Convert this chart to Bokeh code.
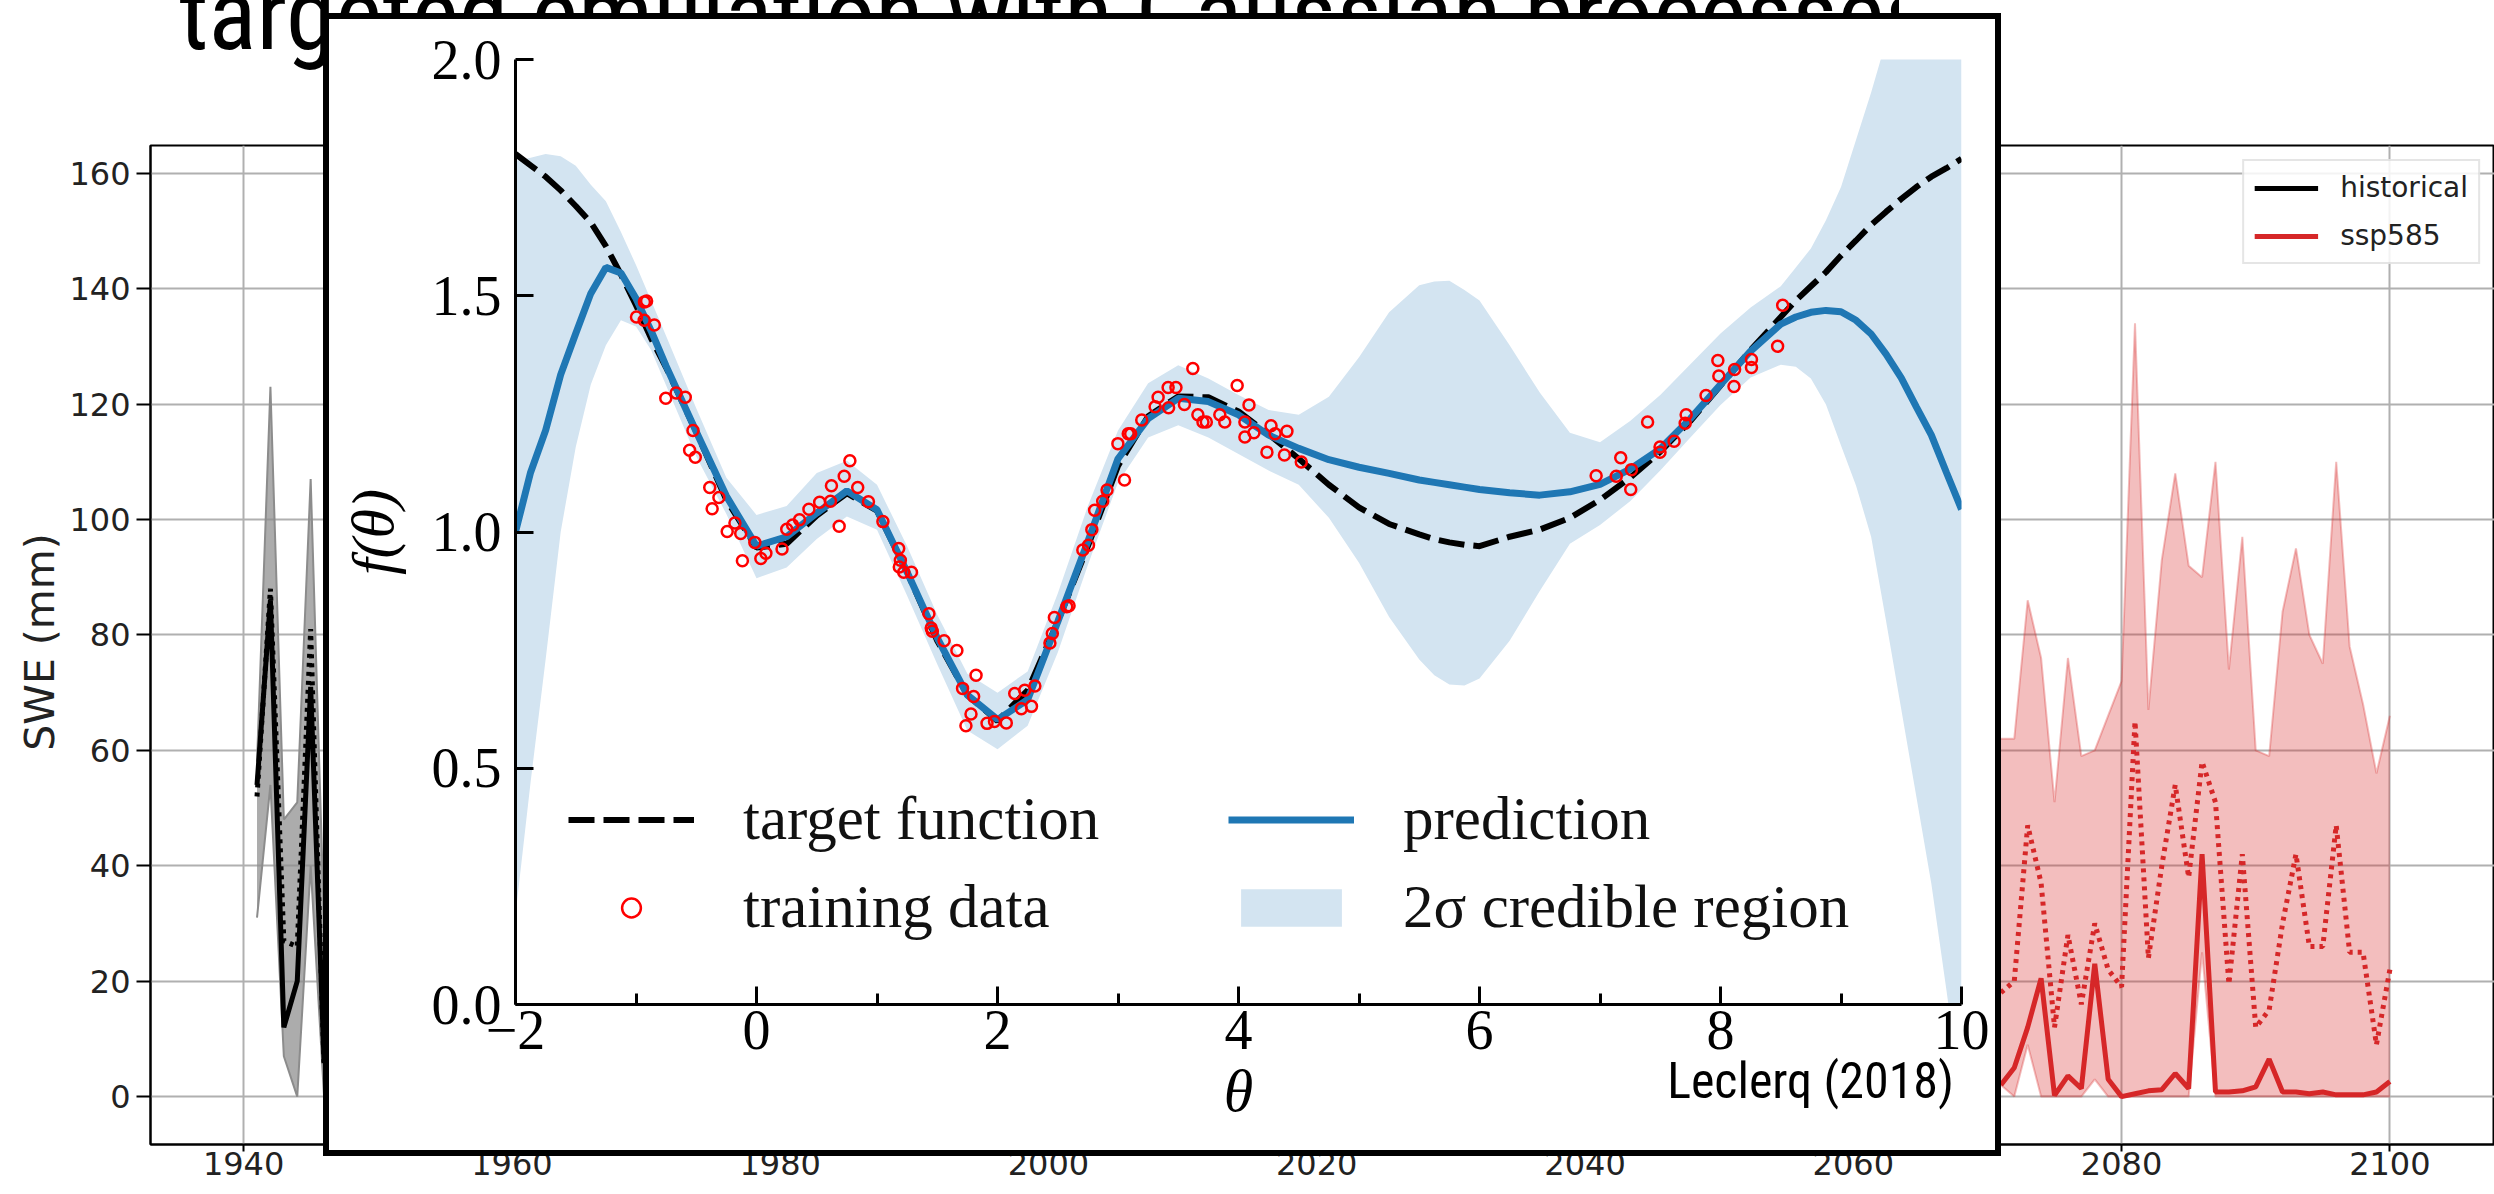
from bokeh.plotting import figure
from bokeh.models import Range1d, FixedTicker, Legend, LegendItem, Div
from bokeh.embed import file_html
from bokeh.resources import INLINE

# ---------------- background: snow water equivalent ensemble ----------------
hist_years = [1941, 1942, 1943, 1944, 1945, 1946]
hist_median = [54, 86, 12, 20, 71, 6]
hist_mean = [52, 88, 27, 26, 81, 5]
hist_low = [31, 54, 7, 0, 40, 0]
hist_high = [58, 123, 48, 51, 107, 30]

ssp_years = [2071, 2072, 2073, 2074, 2075, 2076, 2077, 2078, 2079, 2080,
             2081, 2082, 2083, 2084, 2085, 2086, 2087, 2088, 2089, 2090,
             2091, 2092, 2093, 2094, 2095, 2096, 2097, 2098, 2099, 2100]
ssp_median = [2, 5, 12, 20.5, 0.2, 3.6, 1.4, 23, 3, 0,
              0.5, 1, 1.2, 4, 1.4, 42, 0.8, 0.8, 1, 1.7,
              6.5, 0.8, 0.8, 0.5, 0.8, 0.3, 0.3, 0.3, 0.8, 2.6]
ssp_mean = [18, 20, 47, 37, 12, 28, 16, 30, 22, 19,
            65, 24, 40, 54, 38, 58, 51, 19.5, 42, 12,
            15, 30, 42, 26, 26, 47, 25, 25, 9, 22]
ssp_low = [2, 0, 9, 0, 0, 0, 0, 3, 0, 0,
           0, 0, 0, 0, 0, 25, 0, 0, 0, 0,
           0, 0, 0, 0, 0, 0, 0, 0, 0, 0]
ssp_high = [62, 62, 86, 76, 51, 76, 59, 60, 66, 72,
            134, 67, 93, 108, 92, 90, 110, 74, 97, 60,
            59, 84, 95, 80, 75, 110, 78, 68, 56, 66]

year_ticks = [1940, 1960, 1980, 2000, 2020, 2040, 2060, 2080, 2100]
swe_ticks = [0, 20, 40, 60, 80, 100, 120, 140, 160]

TITLE = "targeted emulation with Gaussian processes"

# ---------------- inset: Gaussian-process regression ----------------
theta = [-2.0, -1.875, -1.75, -1.625, -1.5, -1.375, -1.25, -1.125, -1.0, -0.875, -0.75,
         -0.5, -0.25, 0.0, 0.25, 0.5, 0.75, 1.0, 1.25, 1.5, 1.75, 2.0, 2.25, 2.5,
         2.75, 3.0, 3.25, 3.5, 3.75, 4.0, 4.25, 4.5, 4.75, 5.0, 5.25, 5.5,
         5.625, 5.75, 5.875, 6.0, 6.25, 6.5, 6.75, 7.0, 7.25, 7.5, 7.75, 8.0, 8.25, 8.5,
         8.625, 8.75, 8.875, 9.0, 9.125, 9.25, 9.375, 9.5, 9.625, 9.75, 9.875, 10.0]
target_f = [1.80, 1.776, 1.752, 1.723, 1.69, 1.655, 1.605, 1.545, 1.48, 1.41, 1.348,
            1.212, 1.068, 0.967, 0.975, 1.035, 1.082, 1.045, 0.915, 0.77, 0.655, 0.60, 0.665, 0.81,
            0.97, 1.14, 1.245, 1.287, 1.285, 1.255, 1.207, 1.155, 1.10, 1.052, 1.017, 0.995,
            0.985, 0.978, 0.973, 0.97, 0.99, 1.005, 1.03, 1.068, 1.115, 1.17, 1.235, 1.31, 1.385, 1.455,
            1.49, 1.52, 1.55, 1.585, 1.617, 1.65, 1.678, 1.705, 1.73, 1.752, 1.77, 1.79]
pred_f = [1.0, 1.126, 1.215, 1.333, 1.42, 1.505, 1.56, 1.548, 1.494, 1.426, 1.351,
          1.212, 1.076, 0.97, 0.99, 1.04, 1.087, 1.047, 0.915, 0.776, 0.655, 0.603, 0.645, 0.81,
          0.98, 1.155, 1.24, 1.283, 1.276, 1.248, 1.205, 1.177, 1.153, 1.137, 1.124, 1.11,
          1.105, 1.10, 1.095, 1.09, 1.083, 1.078, 1.085, 1.101, 1.133, 1.176, 1.24, 1.312, 1.383, 1.44,
          1.455, 1.465, 1.469, 1.466, 1.448, 1.419, 1.376, 1.326, 1.265, 1.205, 1.126, 1.048]
band_high = [1.785, 1.792, 1.80, 1.795, 1.775, 1.735, 1.70, 1.635, 1.565, 1.49, 1.415,
             1.262, 1.115, 1.036, 1.055, 1.125, 1.151, 1.10, 0.97, 0.825, 0.70, 0.66, 0.705, 0.87,
             1.055, 1.215, 1.315, 1.353, 1.325, 1.29, 1.258, 1.248, 1.286, 1.37, 1.465, 1.522,
             1.53, 1.532, 1.512, 1.49, 1.395, 1.295, 1.21, 1.19, 1.235, 1.29, 1.355, 1.42, 1.475, 1.52,
             1.56, 1.60, 1.66, 1.73, 1.83, 1.93, 2.04, 2.15, 2.27, 2.4, 2.55, 2.7]
band_low = [0.19, 0.47, 0.73, 1.0, 1.18, 1.312, 1.395, 1.448, 1.435, 1.385, 1.31,
            1.16, 1.038, 0.902, 0.925, 0.985, 1.033, 1.005, 0.865, 0.72, 0.58, 0.54, 0.59, 0.745,
            0.93, 1.105, 1.20, 1.226, 1.20, 1.165, 1.13, 1.10, 1.03, 0.935, 0.82, 0.73,
            0.697, 0.677, 0.675, 0.69, 0.77, 0.875, 0.975, 1.015, 1.065, 1.13, 1.20, 1.269, 1.327, 1.354,
            1.35, 1.325, 1.27, 1.183, 1.098, 0.99, 0.81, 0.625, 0.44, 0.255, 0.03, -0.2]

data_theta = [-0.912, -0.93, -0.996, -0.932, -0.848, -0.753, -0.667, -0.591, -0.527, -0.555,
              -0.508, -0.388, -0.312, -0.368, -0.179, -0.243, -0.131, 0.251, 0.30, 0.357,
              0.435, 0.524, 0.614, 0.622, 0.728, 0.775, 0.84, 0.929, 0.686, 1.049,
              -0.014, -0.117, 0.036, 0.078, 0.212, 1.18, 1.194, 1.185, 1.222, 1.286,
              1.431, 1.45, 1.459, 1.557, 1.663, 1.822, 1.71, 1.802, 1.78, 1.738, 1.913, 1.975,
              2.073, 2.143, 2.226, 2.31, 2.198, 2.282, 2.435, 2.455, 2.472, 2.575, 2.594,
              2.708, 2.755, 2.783,
              2.806, 2.873, 2.909, 3.054, 2.999, 3.085, 3.105, 3.197, 3.308, 3.333,
              3.42, 3.416, 3.481, 3.551, 3.621, 3.663, 3.705, 3.733, 3.845, 3.886,
              3.989, 4.087, 4.053, 4.053, 4.128, 4.27, 4.304, 4.402, 4.236, 4.381, 4.521,
              6.968, 7.135, 7.172, 7.261, 7.255, 7.395, 7.498, 7.498, 7.615, 7.707,
              7.715, 7.88, 7.978, 7.986, 8.117, 8.112, 8.257, 8.257, 8.474, 8.516]
data_f = [1.489, 1.487, 1.455, 1.448, 1.438, 1.283, 1.294, 1.285, 1.215, 1.173,
          1.158, 1.094, 1.073, 1.049, 1.019, 1.001, 0.997, 1.006, 1.015, 1.026,
          1.048, 1.063, 1.065, 1.098, 1.118, 1.151, 1.094, 1.064, 1.012, 1.022,
          0.978, 0.939, 0.944, 0.955, 0.964, 0.965, 0.94, 0.926, 0.915, 0.915,
          0.827, 0.797, 0.79, 0.77, 0.749, 0.697, 0.669, 0.652, 0.615, 0.59, 0.595, 0.599,
          0.596, 0.658, 0.665, 0.674, 0.626, 0.631, 0.765, 0.785, 0.819, 0.842, 0.844,
          0.962, 0.972, 1.005,
          1.046, 1.065, 1.089, 1.11, 1.187, 1.208, 1.208, 1.237, 1.265, 1.285,
          1.263, 1.306, 1.306, 1.27, 1.346, 1.248, 1.233, 1.233, 1.248, 1.233,
          1.31, 1.269, 1.233, 1.201, 1.21, 1.225, 1.208, 1.213, 1.169, 1.163, 1.148,
          1.119, 1.118, 1.157, 1.132, 1.09, 1.233, 1.18, 1.169, 1.192, 1.23,
          1.248, 1.289, 1.363, 1.33, 1.344, 1.308, 1.365, 1.348, 1.393, 1.48]

theta_ticks = [-2, 0, 2, 4, 6, 8, 10]
theta_minor = [-1, 1, 3, 5, 7, 9]
f_ticks = [0, 0.5, 1, 1.5, 2]

NARROW = "'Liberation Sans Narrow', 'Roboto Condensed', 'Noto Sans', sans-serif"

# ---------------- background figure ----------------
bg = figure(width=2494, height=1194,
            x_range=Range1d(1933.06, 2107.8), y_range=Range1d(-8.3, 164.8),
            output_backend="svg", toolbar_location=None,
            min_border_left=150, min_border_right=0, min_border_top=145, min_border_bottom=50)
bg.outline_line_color = "black"
bg.outline_line_width = 2
bg.xaxis.ticker = FixedTicker(ticks=year_ticks, minor_ticks=[])
bg.yaxis.ticker = FixedTicker(ticks=swe_ticks, minor_ticks=[])
bg.grid.grid_line_color = "#b0b0b0"
bg.grid.grid_line_width = 2
bg.axis.axis_line_color = "black"
bg.axis.axis_line_width = 2
bg.axis.major_tick_in = 0
bg.axis.major_tick_line_width = 2
bg.yaxis.major_tick_out = 14
bg.xaxis.major_tick_out = 7
bg.axis.major_label_text_font = "DejaVu Sans"
bg.axis.major_label_text_font_size = "32px"
bg.axis.major_label_text_color = "#222222"
bg.xaxis.major_label_standoff = 0
bg.yaxis.major_label_standoff = 6

bg.varea(x=hist_years, y1=hist_low, y2=hist_high, fill_color="#8c8c8c", fill_alpha=0.72)
bg.line(hist_years, hist_high, line_color="#8c8c8c", line_width=2)
bg.line(hist_years, hist_low, line_color="#8c8c8c", line_width=2)
h_med = bg.line(hist_years, hist_median, line_color="black", line_width=5)
bg.line(hist_years, hist_mean, line_color="black", line_width=5, line_dash="4 5")

bg.varea(x=ssp_years, y1=ssp_low, y2=ssp_high, fill_color="#d62728", fill_alpha=0.3)
bg.line(ssp_years, ssp_high, line_color="#d62728", line_alpha=0.3, line_width=2)
bg.line(ssp_years, ssp_low, line_color="#d62728", line_alpha=0.3, line_width=2)
s_med = bg.line(ssp_years, ssp_median, line_color="#d62728", line_width=5)
bg.line(ssp_years, ssp_mean, line_color="#d62728", line_width=5, line_dash="4 5")

bg_legend = Legend(items=[LegendItem(label="historical", renderers=[h_med]),
                          LegendItem(label="ssp585", renderers=[s_med])],
                   location="top_right", margin=14, padding=10, spacing=15,
                   glyph_width=64, glyph_height=30, label_standoff=22,
                   label_text_font="DejaVu Sans", label_text_font_size="28px",
                   label_text_color="#222222",
                   border_line_color="#cccccc", border_line_width=2,
                   background_fill_color="white", background_fill_alpha=0.85)
bg.add_layout(bg_legend)

swe_label = Div(text="SWE (mm)", width=300, height=50,
                styles={"position": "absolute", "left": "-115px", "top": "612px",
                        "transform": "rotate(-90deg)", "text-align": "center",
                        "font-family": "'DejaVu Sans', sans-serif", "font-size": "41px",
                        "line-height": "50px", "color": "#222222", "z-index": "1"})

title_div = Div(text=TITLE, width=1720, height=130,
                styles={"position": "absolute", "left": "174px", "top": "-40px",
                        "font-family": NARROW, "font-size": "100px", "line-height": "1",
                        "white-space": "nowrap", "overflow": "hidden",
                        "color": "black", "z-index": "1"})

# ---------------- inset figure ----------------
ins = figure(width=1666, height=1131, x_range=Range1d(-2, 10), y_range=Range1d(0, 2),
             output_backend="svg", toolbar_location=None,
             min_border_left=186, min_border_right=46, min_border_top=40, min_border_bottom=158)
ins.outline_line_color = None
ins.grid.visible = False
ins.background_fill_color = "white"
ins.border_fill_color = "white"
ins.styles = {"position": "absolute", "left": "323px", "top": "13px",
              "border": "6px solid black", "box-sizing": "content-box",
              "background-color": "white", "z-index": "5"}

ins.xaxis.ticker = FixedTicker(ticks=theta_ticks, minor_ticks=theta_minor)
ins.yaxis.ticker = FixedTicker(ticks=f_ticks, minor_ticks=[])
ins.xaxis.major_label_overrides = {t: (("\u2212" + str(-t)) if t < 0 else str(t)) for t in theta_ticks}
ins.yaxis.major_label_overrides = {t: f"{t:.1f}" for t in f_ticks}
ins.axis.axis_line_color = "black"
ins.axis.axis_line_width = 3
ins.axis.major_tick_in = 18
ins.axis.major_tick_out = 0
ins.axis.minor_tick_in = 11
ins.axis.minor_tick_out = 0
ins.axis.major_tick_line_width = 3
ins.axis.minor_tick_line_width = 3
ins.axis.major_tick_line_color = "black"
ins.axis.minor_tick_line_color = "black"
ins.axis.major_label_text_font = "Liberation Serif"
ins.axis.major_label_text_font_size = "56px"
ins.axis.major_label_text_color = "black"
ins.xaxis.major_label_standoff = 6
ins.yaxis.major_label_standoff = 14
ins.xaxis.axis_label = "\u03b8"
ins.yaxis.axis_label = "f(\u03b8)"
ins.axis.axis_label_text_font = "Liberation Serif"
ins.axis.axis_label_text_font_size = "60px"
ins.axis.axis_label_text_font_style = "italic"
ins.axis.axis_label_text_color = "black"
ins.xaxis.axis_label_standoff = 6
ins.yaxis.axis_label_standoff = 23

r_band = ins.varea(x=theta, y1=band_low, y2=band_high, fill_color="#d3e4f1")
r_target = ins.line(theta, target_f, line_color="black", line_width=6, line_dash="26 9")
r_pred = ins.line(theta, pred_f, line_color="#1f77b4", line_width=7)
r_pts = ins.scatter(data_theta, data_f, marker="circle", size=11, fill_alpha=0,
                    line_color="red", line_width=2.5)

legend_style = dict(padding=0, margin=0, spacing=18, glyph_width=126, glyph_height=47,
                    label_standoff=49, label_text_font="Liberation Serif",
                    label_text_font_size="61px", label_text_color="#111111",
                    border_line_color=None, background_fill_alpha=0)
leg_a = Legend(items=[LegendItem(label="target function", renderers=[r_target]),
                      LegendItem(label="training data", renderers=[r_pts])],
               location=(53, 62), **legend_style)
leg_b = Legend(items=[LegendItem(label="prediction", renderers=[r_pred]),
                      LegendItem(label="2\u03c3 credible region", renderers=[r_band])],
               location=(713, 62), **legend_style)
ins.add_layout(leg_a)
ins.add_layout(leg_b)

source_div = Div(text="Leclerq (2018)", width=400, height=64,
                 styles={"position": "absolute", "left": "1549px", "top": "1051px",
                         "text-align": "right", "font-family": NARROW, "font-size": "50px",
                         "line-height": "1", "white-space": "nowrap",
                         "color": "black", "z-index": "10"})

p = [bg, swe_label, title_div, ins, source_div]
open("out.html", "w").write(file_html(p, INLINE))
